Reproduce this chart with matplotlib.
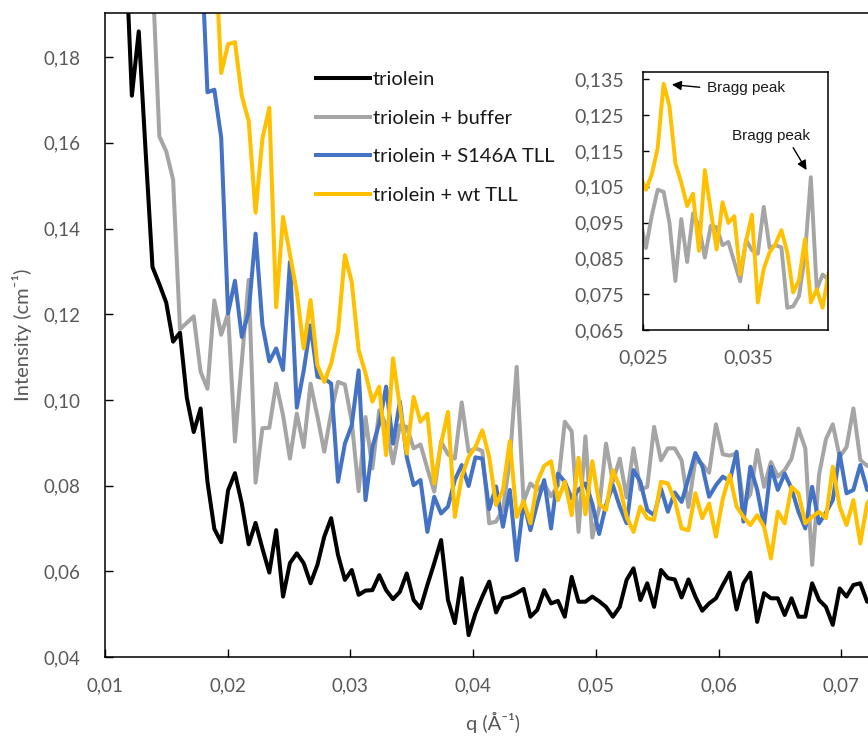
import numpy as np
import matplotlib
matplotlib.use('Agg')
import matplotlib.pyplot as plt
from matplotlib.ticker import FuncFormatter, MultipleLocator

nan = np.nan

# q grid (1/Angstrom), shared by all four curves
q = [0.01163, 0.01219, 0.01275, 0.01331, 0.01387, 0.01443, 0.01499, 0.01555, 0.01611, 0.01667,
     0.01723, 0.01779, 0.01835, 0.01891, 0.01947, 0.02003, 0.02059, 0.02115, 0.02171, 0.02227,
     0.02283, 0.02339, 0.02395, 0.02451, 0.02507, 0.02563, 0.02619, 0.02675, 0.02731, 0.02787,
     0.02843, 0.02899, 0.02955, 0.03011, 0.03067, 0.03123, 0.03179, 0.03235, 0.03291, 0.03347,
     0.03403, 0.03459, 0.03515, 0.03571, 0.03627, 0.03683, 0.03739, 0.03795, 0.03851, 0.03907,
     0.03963, 0.04019, 0.04075, 0.04131, 0.04187, 0.04243, 0.04299, 0.04355, 0.04411, 0.04467,
     0.04523, 0.04579, 0.04635, 0.04691, 0.04747, 0.04803, 0.04859, 0.04915, 0.04971, 0.05027,
     0.05083, 0.05139, 0.05195, 0.05251, 0.05307, 0.05363, 0.05419, 0.05475, 0.05531, 0.05587,
     0.05643, 0.05699, 0.05755, 0.05811, 0.05867, 0.05923, 0.05979, 0.06035, 0.06091, 0.06147,
     0.06203, 0.06259, 0.06315, 0.06371, 0.06427, 0.06483, 0.06539, 0.06595, 0.06651, 0.06707,
     0.06763, 0.06819, 0.06875, 0.06931, 0.06987, 0.07043, 0.07099, 0.07155, 0.07211, 0.07267]

triolein = [0.209, 0.171, 0.186, 0.158, 0.131, 0.127, 0.1227, 0.1136, 0.1157, 0.1005,
            0.0925, 0.098, 0.0809, 0.0699, 0.0668, 0.0789, 0.0829, 0.0758, 0.0663, 0.0713,
            0.0653, 0.0597, 0.0696, 0.0541, 0.0619, 0.0642, 0.0619, 0.0572, 0.0615, 0.0681,
            0.0724, 0.0638, 0.058, 0.0603, 0.0545, 0.0555, 0.0556, 0.0591, 0.0556, 0.0535,
            0.0552, 0.0595, 0.0533, 0.0514, 0.0568, 0.0619, 0.0673, 0.0533, 0.0479, 0.0584,
            0.0451, 0.0502, 0.0541, 0.0576, 0.0504, 0.0537, 0.0541, 0.0549, 0.0559, 0.0494,
            0.051, 0.0556, 0.0525, 0.0531, 0.0494, 0.0587, 0.0529, 0.0529, 0.0541, 0.053,
            0.0517, 0.0494, 0.0517, 0.058, 0.0607, 0.0533, 0.0572, 0.0517, 0.0603, 0.0584,
            0.0581, 0.0539, 0.0581, 0.0541, 0.0508, 0.0525, 0.0537, 0.0568, 0.0597, 0.0511,
            0.0572, 0.0597, 0.0482, 0.0549, 0.0537, 0.0537, 0.0498, 0.0537, 0.0494, 0.0494,
            0.0572, 0.0533, 0.0517, 0.0475, 0.056, 0.0541, 0.0568, 0.0572, 0.0529, 0.054]

buffer_ = [nan, nan, nan, nan, 0.1995, 0.1615, 0.158, 0.1514, 0.1165, 0.118,
           0.1195, 0.1066, 0.1026, 0.1232, 0.1152, 0.1202, 0.0903, 0.109, 0.128, 0.0807,
           0.0934, 0.0935, 0.1038, 0.0964, 0.0863, 0.0968, 0.089, 0.1038, 0.0962, 0.0879,
           0.097, 0.1042, 0.1036, 0.0949, 0.0787, 0.096, 0.084, 0.0976, 0.0941, 0.0852,
           0.0941, 0.0937, 0.0887, 0.0896, 0.084, 0.0786, 0.0902, 0.0873, 0.0863, 0.0994,
           0.0879, 0.0887, 0.0881, 0.0712, 0.0716, 0.0745, 0.0859, 0.1077, 0.0763, 0.0805,
           0.079, 0.0805, 0.0775, 0.08, 0.0949, 0.0927, 0.0692, 0.0915, 0.0679, 0.0747,
           0.0898, 0.0809, 0.0863, 0.0772, 0.0887, 0.0791, 0.0797, 0.0937, 0.0859, 0.0887,
           0.0887, 0.0859, 0.075, 0.086, 0.085, 0.083, 0.0943, 0.0873, 0.087, 0.0875,
           0.0757, 0.078, 0.0883, 0.0797, 0.0855, 0.0821, 0.0836, 0.0863, 0.0933, 0.0887,
           0.0615, 0.0825, 0.0908, 0.0943, 0.0867, 0.089, 0.098, 0.086, 0.0846, 0.085]

s146a_tll = [nan, nan, nan, nan, nan, nan, nan, nan, nan, nan,
             nan, 0.2086, 0.1718, 0.1724, 0.1612, 0.1202, 0.1278, 0.1147, 0.1205, 0.1388,
             0.1175, 0.109, 0.112, 0.107, 0.1322, 0.0982, 0.1068, 0.1174, 0.1054, 0.105,
             0.1038, 0.0809, 0.0898, 0.0941, 0.1069, 0.0766, 0.089, 0.0945, 0.1031, 0.0898,
             0.0996, 0.0867, 0.0801, 0.0813, 0.0692, 0.0774, 0.0735, 0.0751, 0.0813, 0.0848,
             0.0799, 0.0866, 0.0863, 0.0745, 0.0798, 0.0704, 0.079, 0.0626, 0.0762, 0.0696,
             0.0758, 0.0813, 0.07, 0.0828, 0.0809, 0.077, 0.079, 0.0805, 0.0758, 0.0687,
             0.0755, 0.0801, 0.0751, 0.0712, 0.0836, 0.0809, 0.0743, 0.0731, 0.0793, 0.0739,
             0.0784, 0.0762, 0.0817, 0.0876, 0.0846, 0.0774, 0.0801, 0.0821, 0.081, 0.0879,
             0.0716, 0.0844, 0.079, 0.0706, 0.0844, 0.079, 0.0828, 0.0793, 0.0739, 0.07,
             0.0797, 0.0712, 0.0737, 0.0766, 0.0875, 0.0782, 0.079, 0.0848, 0.079, 0.0785]

wt_tll = [nan, nan, nan, nan, nan, nan, nan, nan, nan, nan,
          nan, nan, nan, 0.2094, 0.1763, 0.183, 0.1835, 0.1709, 0.1651, 0.1437,
          0.161, 0.1682, 0.1216, 0.1427, 0.134, 0.1252, 0.112, 0.1233, 0.1081, 0.1042,
          0.1085, 0.1159, 0.1338, 0.1275, 0.1116, 0.1062, 0.0996, 0.1031, 0.0871, 0.1097,
          0.0984, 0.0875, 0.1007, 0.0949, 0.0968, 0.0805, 0.0898, 0.0972, 0.0727, 0.0821,
          0.0867, 0.089, 0.0929, 0.0867, 0.0755, 0.079, 0.0904, 0.0727, 0.0764, 0.0712,
          0.0809, 0.0846, 0.0857, 0.0766, 0.0809, 0.0731, 0.0865, 0.0733, 0.0857, 0.0758,
          0.0743, 0.0836, 0.0797, 0.0727, 0.0692, 0.0751, 0.0724, 0.072, 0.0809, 0.0805,
          0.0766, 0.07, 0.0696, 0.0782, 0.0724, 0.0758, 0.0681, 0.077, 0.0825, 0.0751,
          0.0727, 0.0708, 0.0731, 0.0704, 0.063, 0.0739, 0.0712, 0.0797, 0.0782, 0.0712,
          0.0727, 0.0739, 0.0724, 0.0844, 0.0751, 0.0708, 0.0766, 0.0665, 0.0758, 0.078]

labels = ['triolein', 'triolein + buffer', 'triolein + S146A TLL', 'triolein + wt TLL']
colors = ['#000000', '#A5A5A5', '#4472C4', '#FFC000']

# the inset q axis sits a little lower than the main one
inset_shift = 0.00262

plt.rcParams['font.family'] = ['Lato', 'DejaVu Sans']

W, H = 868, 738
fig = plt.figure(figsize=(W / 100, H / 100), dpi=100)

# main axes (right edge runs off the picture)
ax = fig.add_axes([105 / W, 1 - 657 / H, 1 - 105 / W, (657 - 13) / H])
for y, c, lab in zip([triolein, buffer_, s146a_tll, wt_tll], colors, labels):
    ax.plot(q, y, color=c, lw=2.9, label=lab, solid_joinstyle='round')

ax.set_xlim(0.01, 0.07218)
ax.set_ylim(0.04, 0.1903)
ax.xaxis.set_major_locator(MultipleLocator(0.01))
ax.yaxis.set_major_locator(MultipleLocator(0.02))
comma2 = FuncFormatter(lambda v, p: f'{v:.2f}'.replace('.', ','))
ax.xaxis.set_major_formatter(comma2)
ax.yaxis.set_major_formatter(comma2)
ax.spines['right'].set_visible(False)
for s in ['left', 'top', 'bottom']:
    ax.spines[s].set_linewidth(1.1)
ax.tick_params(direction='in', length=5.5, width=1, labelsize=13.5, labelcolor='#595959')
ax.tick_params(axis='y', pad=18)
ax.tick_params(axis='x', pad=15)

fig.text(22 / W, 1 - 335 / H, 'Intensity (cm⁻¹)', rotation=90, ha='center', va='center',
         fontsize=14.5, color='#595959')
fig.text(493 / W, 1 - 722 / H, 'q (Å⁻¹)', ha='center', va='center',
         fontsize=14.5, color='#595959')

ax.legend(loc='upper left', bbox_to_anchor=(316 / W, 1 - 71 / H), bbox_transform=fig.transFigure,
          frameon=False, fontsize=14.5, handlelength=2.7, handletextpad=0.12, labelspacing=1.07,
          borderpad=0, borderaxespad=0, labelcolor='#1a1a1a')

# inset
q_in = np.array(q) - inset_shift
ax_in = fig.add_axes([643.3 / W, 1 - 330 / H, 185 / W, (330 - 72.3) / H])
ax_in.plot(q_in, buffer_, color=colors[1], lw=2.8, solid_joinstyle='round')
ax_in.plot(q_in, wt_tll, color=colors[3], lw=2.8, solid_joinstyle='round')
ax_in.set_xlim(0.025, 0.04259)
ax_in.set_ylim(0.065, 0.137)
ax_in.xaxis.set_major_locator(MultipleLocator(0.01, offset=0.005))
ax_in.yaxis.set_major_locator(MultipleLocator(0.01, offset=0.005))
comma3 = FuncFormatter(lambda v, p: f'{v:.3f}'.replace('.', ','))
ax_in.xaxis.set_major_formatter(comma3)
ax_in.yaxis.set_major_formatter(comma3)
for s in ax_in.spines.values():
    s.set_linewidth(1.1)
ax_in.tick_params(direction='in', length=4.5, width=1, labelsize=14, labelcolor='#595959', pad=14)

# Bragg peak labels, anchored on the peaks of the data
wt_arr = np.array(wt_tll, dtype=float)
buf_arr = np.array(buffer_, dtype=float)
win = (q_in >= 0.025) & (q_in <= 0.04259)
i1 = np.nanargmax(np.where(win, wt_arr, nan))
i2 = np.nanargmax(np.where(win & (q_in > 0.035), buf_arr, nan))
ax_in.annotate('Bragg peak', xy=(q_in[i1], wt_arr[i1]), xytext=(31, -3), textcoords='offset points',
               ha='left', va='center', fontsize=11, family='Liberation Sans', color='#1a1a1a',
               arrowprops=dict(arrowstyle='-|>', color='black', lw=1, mutation_scale=14,
                               relpos=(0, 0.5), shrinkA=3, shrinkB=6))
ax_in.annotate('Bragg peak', xy=(q_in[i2], buf_arr[i2]), xytext=(-29, 30), textcoords='offset points',
               ha='center', va='center', fontsize=11, family='Liberation Sans', color='#1a1a1a',
               arrowprops=dict(arrowstyle='-|>', color='black', lw=1, mutation_scale=14,
                               relpos=(0.75, 0), shrinkA=2, shrinkB=6))

fig.savefig('out.png', dpi=100)
